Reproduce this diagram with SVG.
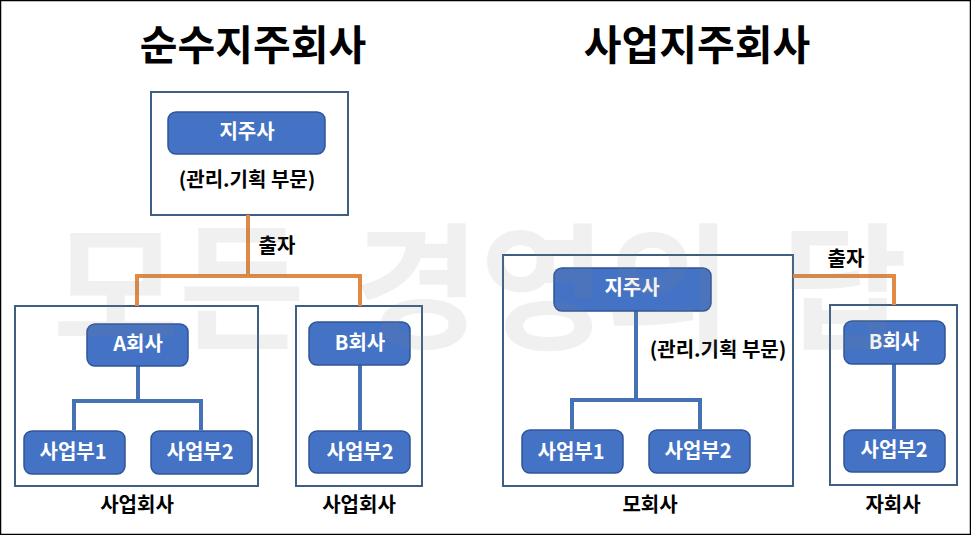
<svg xmlns="http://www.w3.org/2000/svg" width="971" height="535" viewBox="0 0 971 535">
<style>
text{font-family:"Noto Sans CJK KR","Liberation Sans",sans-serif;text-anchor:middle;font-weight:700}
.box{fill:#fff;stroke:#3f5f82;stroke-width:2}
.node{fill:#4472c4;stroke:#2f5597;stroke-width:1.5}
.nt{fill:#fff;font-size:20px}
.lb{fill:#000;font-size:20px}
.title{fill:#000;font-size:41px}
.or{fill:none;stroke:#e08a45;stroke-width:4}
.bl{fill:none;stroke:#4472b4;stroke-width:4}
</style>
<rect x="0.5" y="0.5" width="970" height="534" fill="#fff" stroke="#000" stroke-width="1.5"/>
<text class="title" x="253" y="60">순수지주회사</text>
<text class="title" x="697" y="60">사업지주회사</text>
<g id="boxes">
<rect id="box-holding" class="box" x="151" y="92" width="197" height="123"/>
<rect id="box-a" class="box" x="15" y="306" width="243" height="180"/>
<rect id="box-b" class="box" x="296" y="306" width="126" height="180"/>
<rect id="box-parent" class="box" x="503" y="255" width="290" height="231"/>
<rect id="box-child" class="box" x="830" y="305" width="127" height="180"/>
</g>
<g id="connectors">
<path class="or" d="M248 215V276M137 306V276H360V306"/>
<path class="or" d="M793 276H894V305"/>
<path class="bl" d="M138 366V400M74 430V401H201V430"/>
<path class="bl" d="M360 365V430"/>
<path class="bl" d="M636 311V399M572 429V400H700V429"/>
<path class="bl" d="M894 364V429"/>
</g>
<g id="n-holding1"><rect class="node" x="168" y="112" width="157" height="42" rx="8"/><text class="nt" x="247" y="139">지주사</text></g>
<g id="n-a"><rect class="node" x="87" y="324" width="101" height="42" rx="8"/><text class="nt" x="138" y="351">A회사</text></g>
<g id="n-a1"><rect class="node" x="24" y="431" width="101" height="43" rx="8"/><text class="nt" x="73" y="459">사업부1</text></g>
<g id="n-a2"><rect class="node" x="151" y="431" width="101" height="43" rx="8"/><text class="nt" x="200" y="459">사업부2</text></g>
<g id="n-b"><rect class="node" x="309" y="322" width="101" height="43" rx="8"/><text class="nt" x="360" y="350">B회사</text></g>
<g id="n-b2"><rect class="node" x="309" y="431" width="101" height="42" rx="8"/><text class="nt" x="360" y="459">사업부2</text></g>
<g id="n-holding2"><rect class="node" x="554" y="268" width="157" height="43" rx="8"/><text class="nt" x="632" y="295">지주사</text></g>
<g id="n-p1"><rect class="node" x="522" y="430" width="101" height="43" rx="8"/><text class="nt" x="571" y="459">사업부1</text></g>
<g id="n-p2"><rect class="node" x="649" y="430" width="101" height="43" rx="8"/><text class="nt" x="698" y="458">사업부2</text></g>
<g id="n-c"><rect class="node" x="844" y="321" width="101" height="43" rx="8"/><text class="nt" x="894" y="349">B회사</text></g>
<g id="n-c2"><rect class="node" x="844" y="430" width="101" height="42" rx="8"/><text class="nt" x="894" y="457">사업부2</text></g>
<g id="labels">
<text class="lb" x="247" y="187">(관리.기획 부문)</text>
<text class="lb" x="718" y="357">(관리.기획 부문)</text>
<text class="lb" x="277" y="253">출자</text>
<text class="lb" x="846" y="266">출자</text>
<text class="lb" x="137" y="512">사업회사</text>
<text class="lb" x="359" y="512">사업회사</text>
<text class="lb" x="650" y="512">모회사</text>
<text class="lb" x="893" y="512">자회사</text>
</g>
<text id="watermark" x="480" y="339" style="font-size:137px;fill:#808080;fill-opacity:.12;word-spacing:18px">모든 경영의 답</text>
</svg>
